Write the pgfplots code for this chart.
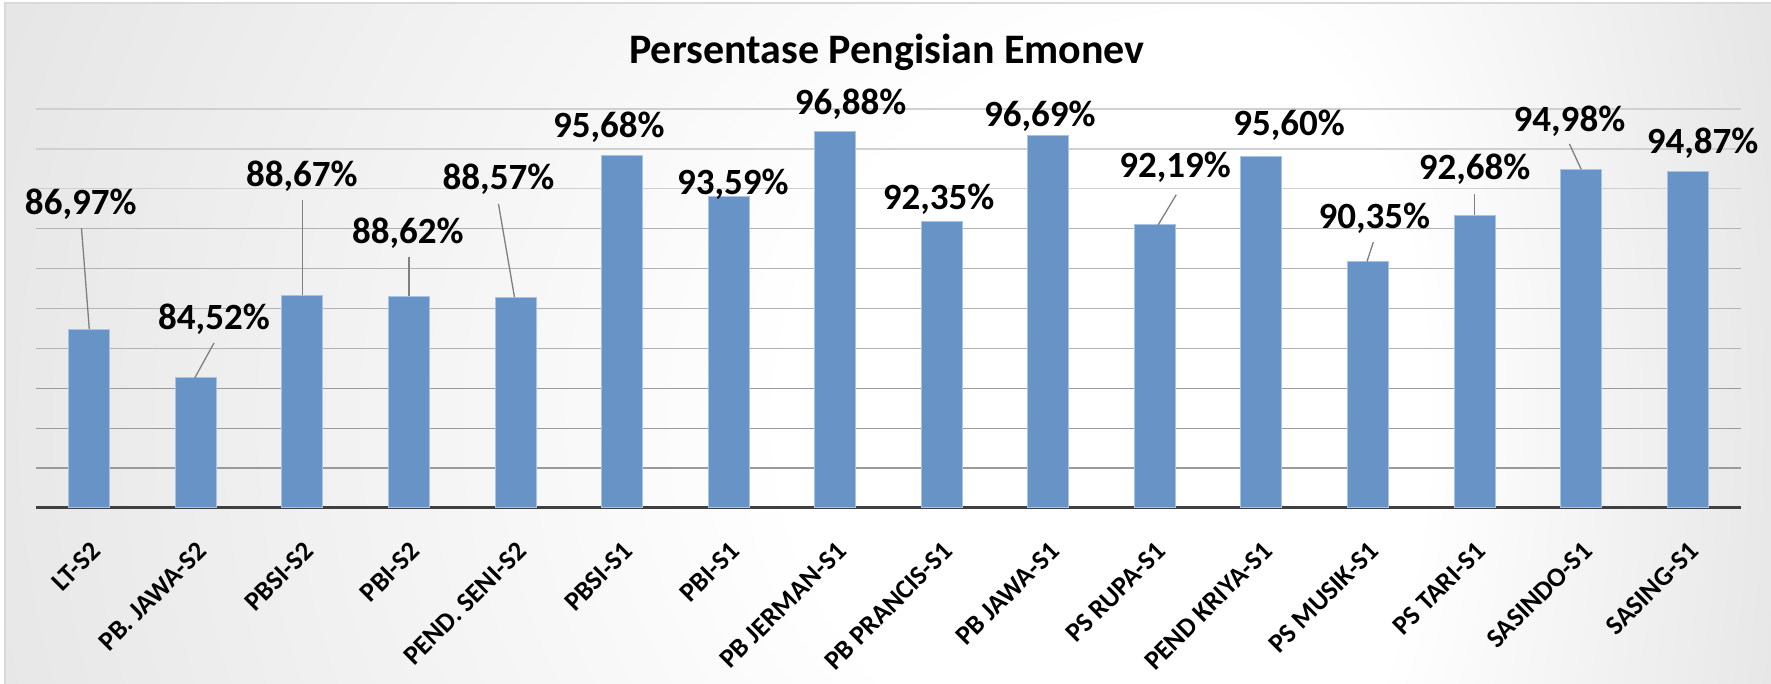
\documentclass[border=0pt]{standalone}
\usepackage{pgfplots}
\pgfplotsset{compat=1.18}
\usepackage{pgfplotstable}
\usepackage{fontspec}
\setmainfont{Carlito}

\definecolor{barfill}{HTML}{6893C6}
\definecolor{baredge}{HTML}{A9C3E5}
\definecolor{bgout}{HTML}{C4C4C4}
\definecolor{gridA}{HTML}{9A9A9A}
\definecolor{gridB}{HTML}{B2B2B2}
\definecolor{gridC}{HTML}{D0D0D0}
\definecolor{leader}{HTML}{7F7F7F}
\definecolor{axisline}{HTML}{404040}
\definecolor{border}{HTML}{D9D9D9}

\pgfdeclareradialshading{bgrad}{\pgfpoint{0bp}{0bp}}{color(0bp)=(white); color(9bp)=(white); color(50bp)=(bgout)}

\newcommand{\ticklab}{\fontsize{27}{32}\selectfont\bfseries}
\newcommand{\datlab}{\fontsize{37}{44}\selectfont\bfseries}

\pgfplotstableread{
x v
0 86.97
1 84.52
2 88.67
3 88.62
4 88.57
5 95.68
6 93.59
7 96.88
8 92.35
9 96.69
10 92.19
11 95.60
12 90.35
13 92.68
14 94.98
15 94.87
}\bars

% label positions (baseline), value
\pgfplotstableread{
lx ly v
-0.08 92.71 86.97
1.17 86.94 84.52
1.995 94.11 88.67
2.99 91.25 88.62
3.84 93.96 88.57
4.875 96.57 95.68
6.04 93.71 93.59
7.145 97.72 96.88
7.97 92.96 92.35
8.92 97.12 96.69
10.19 94.56 92.19
11.26 96.67 95.60
12.06 92.01 90.35
13.00 94.46 92.68
13.89 96.87 94.98
15.14 95.77 94.87
}\labels

\pgfplotstableread{
x y u v
-0.073 92.03 0.073 -5.06
1.17 86.27 -0.18 -1.75
2.0 93.44 0 -4.77
3.0 90.58 0 -1.96
3.84 93.24 0.15 -4.67
10.2 93.70 -0.17 -1.51
12.05 91.33 -0.06 -0.98
13.0 93.74 0 -1.06
13.89 96.25 0.11 -1.27
}\leaders

\begin{document}
\begin{tikzpicture}
\fill[white] (0pt,0pt) rectangle (1771pt,684pt);
\begin{scope}
\clip (5pt,0pt) rectangle (1230pt,681pt);
\shade[shading=bgrad] (0pt,-836pt) rectangle (2460pt,1364pt);
\end{scope}
\begin{scope}
\clip (1230pt,0pt) rectangle (1771pt,681pt);
\shade[shading=bgrad] (689pt,-836pt) rectangle (1771pt,1364pt);
\end{scope}
\draw[border, line width=1.2pt] (5pt,-2pt) rectangle (1773pt,681pt);

\node[font=\fontsize{42}{50}\selectfont\bfseries, anchor=base] at (887pt,620pt) {Persentase Pengisian Emonev};

\begin{axis}[
  at={(36pt,176pt)}, anchor=south west,
  scale only axis, width=1705pt, height=399pt,
  xmin=-0.5, xmax=15.5, ymin=78, ymax=98,
  axis x line*=bottom, axis y line*=left,
  x axis line style={axisline, line width=3pt},
  y axis line style={draw=none},
  xtick={0,...,15},
  xticklabels={LT-S2, PB. JAWA-S2, PBSI-S2, PBI-S2, PEND. SENI-S2, PBSI-S1, PBI-S1, PB JERMAN-S1, PB PRANCIS-S1, PB JAWA-S1, PS RUPA-S1, PEND KRIYA-S1, PS MUSIK-S1, PS TARI-S1, SASINDO-S1, SASING-S1},
  xtick style={draw=none}, ytick style={draw=none},
  major tick length=0pt, minor tick length=0pt,
  ytick={78,80,82,84}, minor ytick={86,88,90,92}, extra y ticks={94,96,98},
  yticklabels={}, extra y tick labels={},
  ymajorgrids, yminorgrids,
  major grid style={gridA, line width=1.3pt},
  minor grid style={gridB, line width=1.3pt},
  extra y tick style={major grid style={gridC, line width=1.3pt}},
  xticklabel style={font=\ticklab, xshift=0pt, yshift=-32pt, rotate=45, anchor=north east, inner sep=0pt},
]
\addplot[ybar, bar width=41pt, fill=barfill, draw=baredge, line width=1pt] table[x=x, y=v] {\bars};
\addplot[quiver={u=\thisrow{u}, v=\thisrow{v}}, leader, line width=1.3pt, mark=none] table[x=x, y=y] {\leaders};
\addplot[draw=none, mark=none, point meta=explicit,
  nodes near coords={\pgfmathprintnumber[fixed, fixed zerofill, precision=2, use comma, assume math mode=true]{\pgfplotspointmeta}\%},
  every node near coord/.append style={font=\datlab, text=black, anchor=base, inner sep=0pt}]
  table[x=lx, y=ly, meta=v] {\labels};
\end{axis}
\pgfresetboundingbox
\path[use as bounding box] (0pt,0pt) rectangle (1771pt,684pt);
\end{tikzpicture}
\end{document}
